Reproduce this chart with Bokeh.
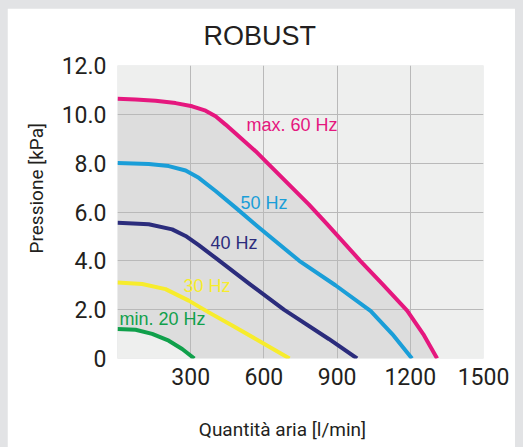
from bokeh.plotting import figure
from bokeh.models import (Range1d, FixedTicker, Label, Title, LinearAxis,
                          GlobalInlineStyleSheet)
from bokeh.embed import file_html
from bokeh.resources import INLINE

# ---------------- data ----------------
title_text = "ROBUST"
x_label = "Quantità aria [l/min]"
y_label = "Pressione [kPa]"

x_ticks = [300, 600, 900, 1200, 1500]
y_ticks = [0, 2, 4, 6, 8, 10, 12]
y_tick_labels = ["0", "2.0", "4.0", "6.0", "8.0", "10.0", "12.0"]
x_grid = [300, 600, 900, 1200]
y_grid = [2, 4, 6, 8, 10]

series_names = ["max. 60 Hz", "50 Hz", "40 Hz", "30 Hz", "min. 20 Hz"]

flow_60 = [0, 74, 156, 238, 306, 361, 402, 443, 497, 566, 620, 702, 784, 859, 995,
           1085, 1187, 1253, 1310]
pres_60 = [10.64, 10.61, 10.56, 10.46, 10.33, 10.15, 9.92, 9.58, 9.10, 8.49, 7.95, 7.13,
           6.31, 5.50, 4.0, 3.06, 1.96, 1.0, 0.0]

flow_50 = [0, 128, 210, 279, 333, 402, 484, 572, 745, 893, 1037, 1126, 1207]
pres_50 = [8.01, 7.97, 7.88, 7.70, 7.40, 6.86, 6.18, 5.43, 4.0, 3.0, 1.95, 1.0, 0.0]

flow_40 = [0, 128, 224, 279, 333, 402, 538, 682, 866, 982]
pres_40 = [5.56, 5.50, 5.29, 5.02, 4.64, 4.12, 3.08, 2.0, 0.8, 0.0]

flow_30 = [0, 101, 197, 292, 374, 470, 579, 705]
pres_30 = [3.11, 3.05, 2.84, 2.37, 1.89, 1.35, 0.73, 0.0]

flow_20 = [0, 74, 142, 210, 265, 315]
pres_20 = [1.21, 1.18, 1.01, 0.73, 0.39, 0.0]

# ---------------- layout / style ----------------
label_x = [529, 504, 381, 270, 8]          # curve-name anchors (data coords)
label_y = [9.55, 6.38, 4.71, 2.98, 1.63]
x_label_center = 676                        # where the x title is centred (data x)

colors = ["#e5177e", "#1a9ed8", "#2b2c7c", "#f7ec2c", "#10a04b"]
flows = [flow_60, flow_50, flow_40, flow_30, flow_20]
press = [pres_60, pres_50, pres_40, pres_30, pres_20]

TXT = "#231f20"

p = figure(width=508, height=439,
           x_range=Range1d(0, 1500), y_range=Range1d(0, 12),
           output_backend="svg", toolbar_location=None,
           min_border_left=110, min_border_right=32,
           min_border_top=56, min_border_bottom=89,
           background_fill_color="#eeefee", border_fill_color="white",
           outline_line_color=None)

p.stylesheets = [GlobalInlineStyleSheet(
    css="html,body{background:#e2e3e5 !important;overflow:hidden !important;}"
        "body{padding:8px 0 0 7px !important;}")]

# shaded operating area
p.patch(x=flow_60 + [0], y=pres_60 + [0], fill_color="#dddddd",
        line_color=None, level="image")
p.patch(x=flow_20 + [0], y=pres_20 + [0], fill_color="#eeefee",
        line_color=None, level="image")

# axes
p.xaxis.ticker = FixedTicker(ticks=x_ticks)
p.yaxis.ticker = FixedTicker(ticks=y_ticks)
p.yaxis.major_label_overrides = {t: l for t, l in zip(y_ticks, y_tick_labels)}


def plain(ax, size):
    ax.axis_line_color = None
    ax.major_tick_line_color = None
    ax.minor_tick_line_color = None
    ax.major_tick_out = 0
    ax.major_tick_in = 0
    ax.minor_tick_out = 0
    ax.minor_tick_in = 0
    ax.major_label_text_font = "Roboto"
    ax.major_label_text_font_size = size
    ax.major_label_text_color = TXT


for ax in (p.xaxis[0], p.yaxis[0]):
    plain(ax, "23px")
p.xaxis.major_label_standoff = 9
p.yaxis.major_label_standoff = 11

# x-axis title (second, label-only axis below the tick labels)
xt = LinearAxis(ticker=FixedTicker(ticks=[x_label_center]),
                major_label_overrides={x_label_center: x_label})
plain(xt, "19px")
xt.major_label_standoff = 30
p.add_layout(xt, "below")

# y-axis title
p.add_layout(Title(text=y_label, align="left", offset=105, vertical_align="middle",
                   standoff=19, text_font="Roboto", text_font_size="19px",
                   text_font_style="normal", text_color=TXT), "left")

# chart title
p.add_layout(Title(text=title_text, align="left", offset=86, vertical_align="top",
                   standoff=25, text_font="Liberation Sans", text_font_size="27px",
                   text_font_style="normal", text_color=TXT), "above")

p.xgrid.ticker = FixedTicker(ticks=x_grid)
p.ygrid.ticker = FixedTicker(ticks=y_grid)
p.grid.grid_line_color = "#b9b9b9"
p.grid.grid_line_width = 1

for xs, ys, c in zip(flows, press, colors):
    p.line(xs, ys, line_color=c, line_width=4, line_join="round")

for name, lx, ly, c in zip(series_names, label_x, label_y, colors):
    p.add_layout(Label(x=lx, y=ly, text=name, text_color=c,
                       text_font="Liberation Sans", text_font_size="18px",
                       text_align="left", text_baseline="middle"))

open("out.html", "w").write(file_html(p, INLINE))
